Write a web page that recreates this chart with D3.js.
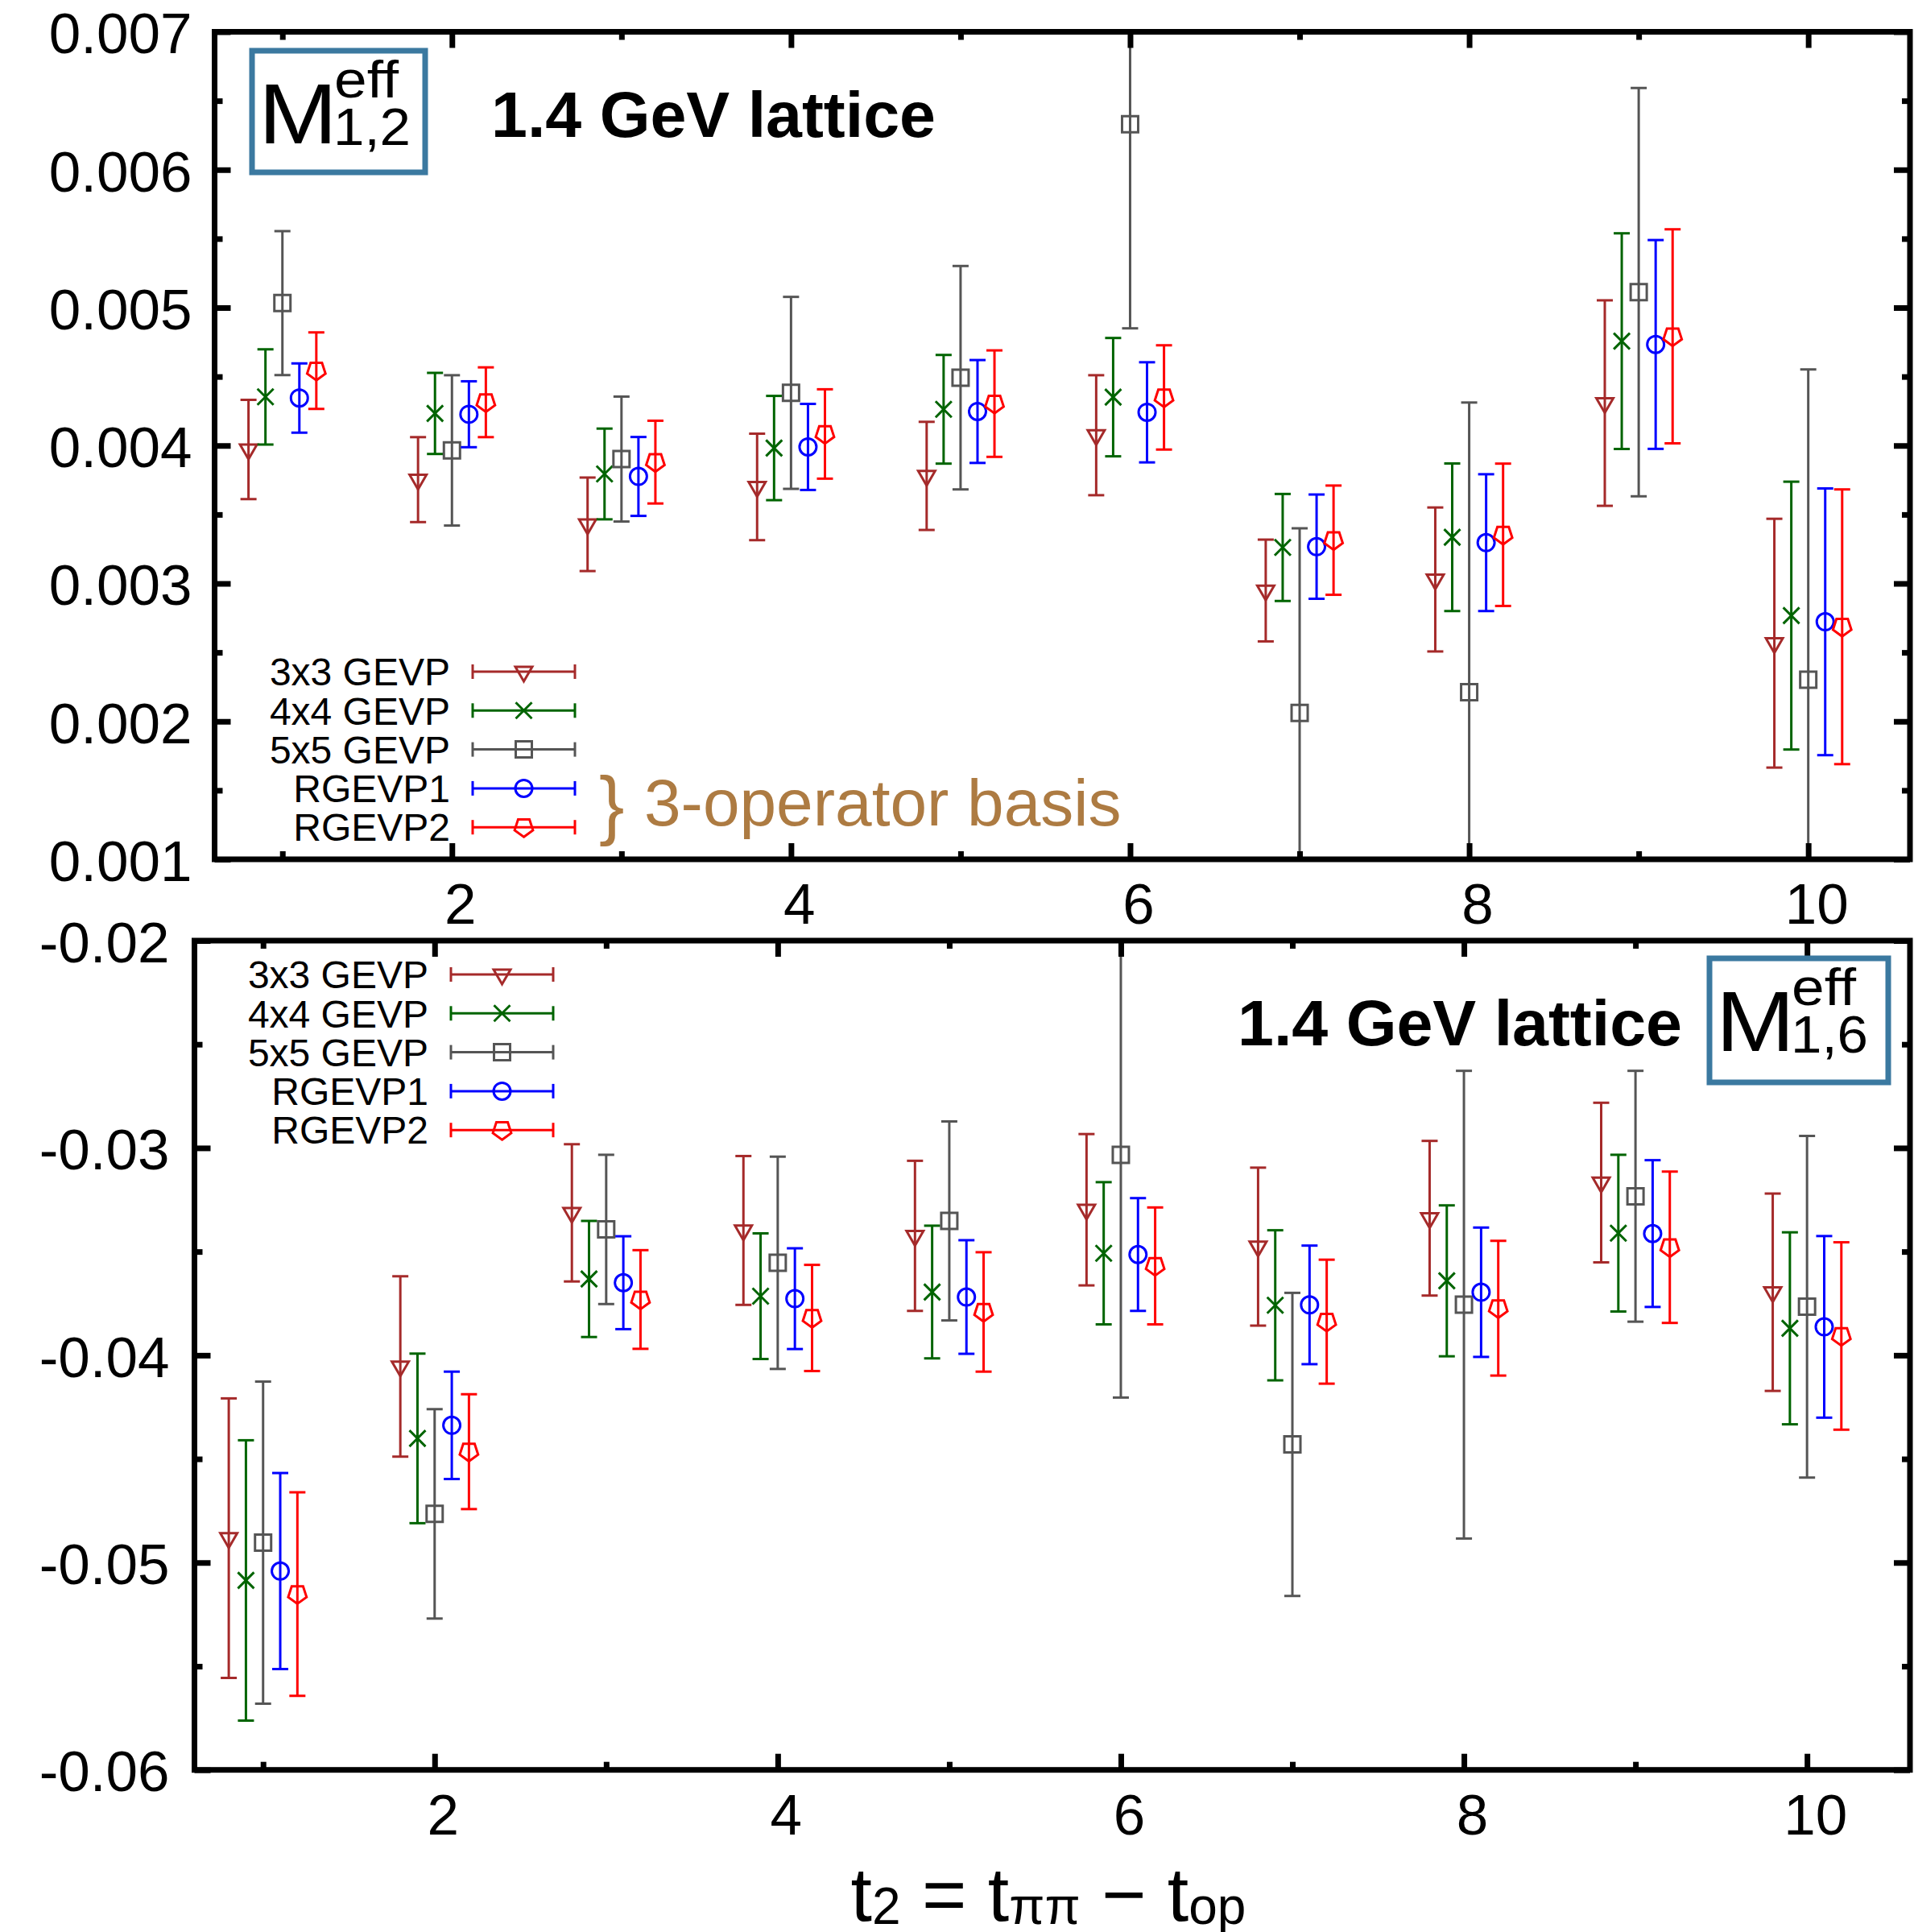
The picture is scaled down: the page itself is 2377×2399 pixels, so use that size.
<!DOCTYPE html>
<html>
<head>
<meta charset="utf-8">
<script src="https://cdn.jsdelivr.net/npm/d3@7"></script>
<style>
  body { margin: 0; background: #ffffff; }
  svg { display: block; }
</style>
</head>
<body>
<svg id="chart" width="2377" height="2399"></svg>
<script>
// ---------------------------------------------------------------------------
// Data: effective matrix elements vs. t2 for five GEVP variants
// ---------------------------------------------------------------------------
const timeSlices = [1, 2, 3, 4, 5, 6, 7, 8, 9, 10];
const seriesNames = ["3x3 GEVP", "4x4 GEVP", "5x5 GEVP", "RGEVP1", "RGEVP2"];
const seriesColors = ["#a52a2a", "#006400", "#555555", "#0000ff", "#ff0000"];
const seriesShift = [-0.2, -0.1, 0, 0.1, 0.2];
const seriesSymbols = ["triangleDown", "times", "square", "circle", "pentagon"];

// M^eff_{1,2}
const m12Gevp3    = [0.003971, 0.003753, 0.003429, 0.003700, 0.003780, 0.004075, 0.002949, 0.003029, 0.004308, 0.002567];
const m12Gevp3Err = [0.000360, 0.000308, 0.000339, 0.000386, 0.000392, 0.000435, 0.000369, 0.000522, 0.000745, 0.000902];
const m12Gevp4    = [0.004353, 0.004233, 0.003794, 0.003982, 0.004263, 0.004351, 0.003261, 0.003335, 0.004757, 0.002767];
const m12Gevp4Err = [0.000345, 0.000294, 0.000329, 0.000378, 0.000394, 0.000429, 0.000388, 0.000535, 0.000782, 0.000971];
const m12Gevp5    = [0.005033, 0.003965, 0.003902, 0.004382, 0.004492, 0.006330, 0.002061, 0.002212, 0.005112, 0.002302];
const m12Gevp5Err = [0.000522, 0.000545, 0.000453, 0.000696, 0.000810, 0.001480, 0.001339, 0.002100, 0.001480, 0.002250];
const m12Rgevp1    = [0.004345, 0.004227, 0.003776, 0.003990, 0.004247, 0.004241, 0.003267, 0.003296, 0.004733, 0.002722];
const m12Rgevp1Err = [0.000251, 0.000239, 0.000286, 0.000312, 0.000373, 0.000363, 0.000378, 0.000496, 0.000757, 0.000967];
const m12Rgevp2    = [0.004543, 0.004314, 0.003880, 0.004084, 0.004304, 0.004349, 0.003314, 0.003353, 0.004792, 0.002686];
const m12Rgevp2Err = [0.000278, 0.000253, 0.000300, 0.000324, 0.000386, 0.000378, 0.000396, 0.000516, 0.000776, 0.000996];

// M^eff_{1,6}
const m16Gevp3    = [-0.04882, -0.04054, -0.03313, -0.03398, -0.03424, -0.03298, -0.03476, -0.03339, -0.03167, -0.03696];
const m16Gevp3Err = [0.00674, 0.00435, 0.00331, 0.00359, 0.00362, 0.00365, 0.00381, 0.00373, 0.00385, 0.00476];
const m16Gevp4    = [-0.05086, -0.04401, -0.03632, -0.03715, -0.03695, -0.03508, -0.03759, -0.03641, -0.03411, -0.03870];
const m16Gevp4Err = [0.00676, 0.00409, 0.00280, 0.00303, 0.00320, 0.00343, 0.00362, 0.00364, 0.00378, 0.00463];
const m16Gevp5    = [-0.04904, -0.04765, -0.03393, -0.03554, -0.03352, -0.03033, -0.04430, -0.03756, -0.03233, -0.03766];
const m16Gevp5Err = [0.00777, 0.00505, 0.00360, 0.00512, 0.00480, 0.01171, 0.00731, 0.01128, 0.00605, 0.00824];
const m16Rgevp1    = [-0.05041, -0.04338, -0.03650, -0.03727, -0.03719, -0.03514, -0.03757, -0.03696, -0.03413, -0.03863];
const m16Rgevp1Err = [0.00473, 0.00259, 0.00224, 0.00243, 0.00274, 0.00272, 0.00286, 0.00312, 0.00354, 0.00438];
const m16Rgevp2    = [-0.05152, -0.04465, -0.03731, -0.03820, -0.03791, -0.03569, -0.03838, -0.03773, -0.03479, -0.03907];
const m16Rgevp2Err = [0.00491, 0.00277, 0.00238, 0.00256, 0.00288, 0.00282, 0.00299, 0.00325, 0.00365, 0.00452];

// Axis ticks
const xMajorTicks = [2, 4, 6, 8, 10];
const xMinorTicks = [1, 3, 5, 7, 9];
const m12YMajor = [0.001, 0.002, 0.003, 0.004, 0.005, 0.006, 0.007];
const m12YMinor = [0.0015, 0.0025, 0.0035, 0.0045, 0.0055, 0.0065];
const m16YMajor = [-0.06, -0.05, -0.04, -0.03, -0.02];
const m16YMinor = [-0.055, -0.045, -0.035, -0.025];

// ---------------------------------------------------------------------------
const FONT = "'Liberation Sans', Arial, Helvetica, sans-serif";
const svg = d3.select("#chart");

// Hollow gnuplot-style point symbols (size argument ignored; fixed geometry)
const symbolTypes = {
  triangleDown: { draw(c) { c.moveTo(-10.5, -6.1); c.lineTo(10.5, -6.1); c.lineTo(0, 12.1); c.closePath(); } },
  times: { draw(c) { c.moveTo(-10, -10); c.lineTo(10, 10); c.moveTo(-10, 10); c.lineTo(10, -10); } },
  square: { draw(c) { c.rect(-10, -10, 20, 20); } },
  circle: { draw(c) { c.moveTo(10.5, 0); c.arc(0, 0, 10.5, 0, 2 * Math.PI); } },
  pentagon: { draw(c) {
    const R = 12;
    for (let k = 0; k < 5; k++) {
      const a = k * 2 * Math.PI / 5;
      const px = R * Math.sin(a), py = R * Math.cos(a);
      if (k === 0) c.moveTo(px, py); else c.lineTo(px, py);
    }
    c.closePath();
  } }
};
const symbolPath = name => d3.symbol().type(symbolTypes[name])();

function drawPanel(cfg) {
  const x = d3.scaleLinear().domain([0.6, 10.6]).range([cfg.left, cfg.right]);
  const y = d3.scaleLinear().domain(cfg.yDomain).range([cfg.bottom, cfg.top]);
  const g = svg.append("g");

  const clipId = "clip-" + cfg.id;
  svg.append("clipPath").attr("id", clipId)
    .append("rect")
    .attr("x", cfg.left).attr("y", cfg.top)
    .attr("width", cfg.right - cfg.left).attr("height", cfg.bottom - cfg.top);

  const data = g.append("g").attr("clip-path", `url(#${clipId})`);
  cfg.series.forEach((s, si) => {
    const col = seriesColors[si];
    const sg = data.append("g").attr("stroke", col).attr("fill", "none").attr("stroke-width", 3);
    timeSlices.forEach((t, i) => {
      const cx = x(t + seriesShift[si]);
      const v = s.values[i], e = s.errors[i];
      const yHi = y(v + e), yLo = y(v - e), yc = y(v);
      sg.append("line").attr("x1", cx).attr("x2", cx).attr("y1", yHi).attr("y2", yLo);
      sg.append("line").attr("x1", cx - 10).attr("x2", cx + 10).attr("y1", yHi).attr("y2", yHi);
      sg.append("line").attr("x1", cx - 10).attr("x2", cx + 10).attr("y1", yLo).attr("y2", yLo);
      sg.append("path").attr("d", symbolPath(seriesSymbols[si]))
        .attr("transform", `translate(${cx},${yc})`);
    });
  });

  // Axes: thick inward ticks on all four sides, labels on left and bottom
  const styleAxis = (sel, withText) => {
    sel.select(".domain").remove();
    sel.selectAll(".tick line").attr("stroke", "#000").attr("stroke-width", 7);
    sel.attr("font-family", FONT).attr("font-size", 71);
    if (withText) sel.selectAll(".tick text").attr("fill", "#000");
  };
  const none = () => "";

  g.append("g").attr("transform", `translate(0,${cfg.bottom})`)
    .call(d3.axisBottom(x).tickValues(xMajorTicks).tickSize(-20).tickPadding(30).tickFormat(d3.format("d")))
    .call(a => { styleAxis(a, true); a.selectAll(".tick text").attr("dx", 10); });
  g.append("g").attr("transform", `translate(0,${cfg.bottom})`)
    .call(d3.axisBottom(x).tickValues(xMinorTicks).tickSize(-10).tickFormat(none))
    .call(a => styleAxis(a, false));
  g.append("g").attr("transform", `translate(0,${cfg.top})`)
    .call(d3.axisTop(x).tickValues(xMajorTicks).tickSize(-20).tickFormat(none))
    .call(a => styleAxis(a, false));
  g.append("g").attr("transform", `translate(0,${cfg.top})`)
    .call(d3.axisTop(x).tickValues(xMinorTicks).tickSize(-10).tickFormat(none))
    .call(a => styleAxis(a, false));

  g.append("g").attr("transform", `translate(${cfg.left},0)`)
    .call(d3.axisLeft(y).tickValues(cfg.yMajor).tickSize(-20).tickPadding(cfg.yPad).tickFormat(cfg.yFormat))
    .call(a => { styleAxis(a, true); a.selectAll(".tick text").attr("dy", "0.37em"); });
  g.append("g").attr("transform", `translate(${cfg.left},0)`)
    .call(d3.axisLeft(y).tickValues(cfg.yMinor).tickSize(-10).tickFormat(none))
    .call(a => styleAxis(a, false));
  g.append("g").attr("transform", `translate(${cfg.right},0)`)
    .call(d3.axisRight(y).tickValues(cfg.yMajor).tickSize(-20).tickFormat(none))
    .call(a => styleAxis(a, false));
  g.append("g").attr("transform", `translate(${cfg.right},0)`)
    .call(d3.axisRight(y).tickValues(cfg.yMinor).tickSize(-10).tickFormat(none))
    .call(a => styleAxis(a, false));

  // Frame
  g.append("rect")
    .attr("x", cfg.left).attr("y", cfg.top)
    .attr("width", cfg.right - cfg.left).attr("height", cfg.bottom - cfg.top)
    .attr("fill", "none").attr("stroke", "#000").attr("stroke-width", 7);

  // Legend
  const lg = g.append("g");
  seriesNames.forEach((name, si) => {
    const ry = cfg.legend.y0 + si * cfg.legend.dy;
    lg.append("text")
      .attr("x", cfg.legend.textRight).attr("y", ry).attr("dy", "0.36em")
      .attr("text-anchor", "end").attr("font-family", FONT).attr("font-size", 48)
      .attr("fill", "#000").text(name);
    const row = lg.append("g").attr("stroke", seriesColors[si]).attr("stroke-width", 3).attr("fill", "none");
    const x0 = cfg.legend.x0, x1 = cfg.legend.x1;
    row.append("line").attr("x1", x0).attr("x2", x1).attr("y1", ry).attr("y2", ry);
    row.append("line").attr("x1", x0).attr("x2", x0).attr("y1", ry - 9).attr("y2", ry + 9);
    row.append("line").attr("x1", x1).attr("x2", x1).attr("y1", ry - 9).attr("y2", ry + 9);
    row.append("path").attr("d", symbolPath(seriesSymbols[si]))
      .attr("transform", `translate(${(x0 + x1) / 2},${ry})`);
  });

  // Title
  g.append("text")
    .attr("x", cfg.title.x).attr("y", cfg.title.y)
    .attr("font-family", FONT).attr("font-size", 79).attr("font-weight", "bold")
    .attr("textLength", 552).attr("lengthAdjust", "spacingAndGlyphs")
    .attr("fill", "#000").text("1.4 GeV lattice");

  // Boxed operator label  M^eff_{i,j}
  const b = cfg.box;
  g.append("rect").attr("x", b.x).attr("y", b.y).attr("width", b.w).attr("height", b.h)
    .attr("fill", "none").attr("stroke", "#3b79a0").attr("stroke-width", 7);
  g.append("text").attr("x", b.x + 8).attr("y", b.y + 115)
    .attr("font-family", FONT).attr("font-size", 106).attr("fill", "#000")
    .attr("textLength", 98).attr("lengthAdjust", "spacingAndGlyphs").text("M");
  g.append("text").attr("x", b.x + 102).attr("y", b.y + 58)
    .attr("font-family", FONT).attr("font-size", 64).attr("fill", "#000")
    .attr("textLength", 80).attr("lengthAdjust", "spacingAndGlyphs").text("eff");
  g.append("text").attr("x", b.x + 101).attr("y", b.y + 117)
    .attr("font-family", FONT).attr("font-size", 64).attr("fill", "#000")
    .attr("textLength", 96).attr("lengthAdjust", "spacingAndGlyphs").text(b.sub);

  return g;
}

const topPanel = drawPanel({
  id: "m12",
  left: 266.5, right: 2372, top: 39.5, bottom: 1067,
  yDomain: [0.001, 0.007], yMajor: m12YMajor, yMinor: m12YMinor,
  yFormat: d3.format(".3f"), yPad: 28,
  series: [
    { values: m12Gevp3, errors: m12Gevp3Err },
    { values: m12Gevp4, errors: m12Gevp4Err },
    { values: m12Gevp5, errors: m12Gevp5Err },
    { values: m12Rgevp1, errors: m12Rgevp1Err },
    { values: m12Rgevp2, errors: m12Rgevp2Err }
  ],
  legend: { textRight: 559, x0: 587, x1: 714, y0: 834, dy: 48.3 },
  title: { x: 610, y: 170 },
  box: { x: 313, y: 63, w: 215, h: 151, sub: "1,2" }
});

// Basis annotation next to the RGEVP legend entries
topPanel.append("text")
  .attr("x", 744).attr("y", 1031)
  .attr("font-family", FONT).attr("font-size", 94).attr("fill", "#ad7b42").text("}");
topPanel.append("text")
  .attr("x", 800).attr("y", 1025)
  .attr("font-family", FONT).attr("font-size", 82).attr("fill", "#ad7b42").text("3-operator basis");

const bottomPanel = drawPanel({
  id: "m16",
  left: 241.5, right: 2372, top: 1168, bottom: 2197.7,
  yDomain: [-0.06, -0.02], yMajor: m16YMajor, yMinor: m16YMinor,
  yFormat: d => d3.format(".2f")(d).replace("\u2212", "-"), yPad: 31,
  series: [
    { values: m16Gevp3, errors: m16Gevp3Err },
    { values: m16Gevp4, errors: m16Gevp4Err },
    { values: m16Gevp5, errors: m16Gevp5Err },
    { values: m16Rgevp1, errors: m16Rgevp1Err },
    { values: m16Rgevp2, errors: m16Rgevp2Err }
  ],
  legend: { textRight: 532, x0: 560, x1: 687, y0: 1210, dy: 48.3 },
  title: { x: 1537, y: 1298 },
  box: { x: 2123, y: 1190, w: 222, h: 154, sub: "1,6" }
});

// x-axis title: t2 = tππ − top
const xt = svg.append("text")
  .attr("x", 1302).attr("y", 2385).attr("text-anchor", "middle")
  .attr("font-family", FONT).attr("font-size", 95).attr("fill", "#000");
xt.append("tspan").text("t");
xt.append("tspan").attr("font-size", 64).attr("dy", 4).text("2");
xt.append("tspan").attr("dy", -4).text(" = t");
xt.append("tspan").attr("font-size", 64).attr("dy", 4).text("ππ");
xt.append("tspan").attr("dy", -4).text(" \u2212 t");
xt.append("tspan").attr("font-size", 64).attr("dy", 4).text("op");
</script>
</body>
</html>
